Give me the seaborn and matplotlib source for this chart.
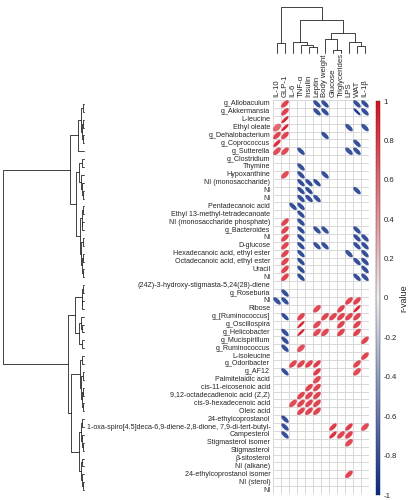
import numpy as np
import matplotlib
matplotlib.use("Agg")
import matplotlib.pyplot as plt
import seaborn as sns
from matplotlib.colors import LinearSegmentedColormap, ListedColormap, Normalize
from matplotlib.cm import ScalarMappable
from matplotlib.patches import Ellipse

sns.set_style("white")
plt.rcParams["font.family"] = ["Liberation Sans", "DejaVu Sans"]

# ---------------------------------------------------------------
# data
# ---------------------------------------------------------------
clinical = ["IL-10", "GLP-1", "IL-6", "TNF-α", "Insulin", "Leptin",
            "Body weight", "Glucose", "Triglycerides", "LPS", "WAT", "IL-1β"]

features = [
    "g_Allobaculum", "g_Akkermansia", "L-leucine", "Ethyl oleate",
    "g_Dehalobacterium", "g_Coprococcus", "g_Sutterella", "g_Clostridium",
    "Thymine", "Hypoxanthine", "NI (monosaccharide)", "NI", "NI",
    "Pentadecanoic acid", "Ethyl 13-methyl-tetradecanoate",
    "NI (monosaccharide phosphate)", "g_Bacteroides", "NI", "D-glucose",
    "Hexadecanoic acid, ethyl ester", "Octadecanoic acid, ethyl ester",
    "Uracil", "NI", "(24Z)-3-hydroxy-stigmasta-5,24(28)-diene",
    "g_Roseburia", "NI", "Ribose", "g_[Ruminococcus]", "g_Oscillospira",
    "g_Helicobacter", "g_Mucispirillum", "g_Ruminococcus", "L-isoleucine",
    "g_Odoribacter", "g_AF12", "Palmitelaidic acid", "cis-11-eicosenoic acid",
    "9,12-octadecadienoic acid (Z,Z)", "cis-9-hexadecenoic acid", "Oleic acid",
    "24-ethylcoprostanol",
    "1-oxa-spiro[4.5]deca-6,9-diene-2,8-dione, 7,9-di-tert-butyl-",
    "Campesterol", "Stigmasterol isomer", "Stigmasterol", "β-sitosterol",
    "NI (alkane)", "24-ethylcoprostanol isomer", "NI (sterol)", "NI",
]

# significant r-values per clinical marker (0 = not shown), one per feature row
il10 = [0, 0, 0, .6, .75, .85, .72, 0, 0, 0,
        0, 0, 0, 0, 0, 0, 0, 0, 0, 0,
        0, 0, 0, 0, 0, -.78, 0, 0, 0, 0,
        0, 0, 0, 0, 0, 0, 0, 0, 0, 0,
        0, 0, 0, 0, 0, 0, 0, 0, 0, 0]
glp1 = [.75, .75, .9, .9, .75, 0, .72, 0, 0, .72,
        0, 0, 0, 0, 0, .75, .75, .75, .75, .75,
        .75, .75, .75, 0, -.8, -.8, 0, -.82, 0, -.8,
        -.8, -.8, 0, 0, -.82, 0, 0, 0, 0, 0,
        -.8, -.8, -.8, 0, 0, 0, 0, 0, 0, 0]
il6 = [0, 0, 0, 0, 0, 0, 0, 0, 0, 0,
       0, 0, 0, -.8, 0, 0, 0, 0, 0, 0,
       0, 0, 0, 0, 0, 0, 0, 0, 0, 0,
       0, 0, 0, .75, 0, 0, 0, 0, .72, 0,
       0, 0, 0, 0, 0, 0, 0, 0, 0, 0]
tnfa = [0, 0, 0, 0, 0, 0, -.8, 0, -.8, -.8,
        -.82, -.82, -.8, -.8, -.82, -.8, -.82, -.82, -.82, -.82,
        -.82, -.82, -.82, 0, 0, 0, 0, .75, .92, .92,
        0, .7, 0, .75, 0, 0, 0, .75, .75, .75,
        0, 0, 0, 0, 0, 0, 0, 0, 0, 0]
insulin = [0, 0, 0, 0, 0, 0, 0, 0, 0, 0,
           -.82, -.82, -.8, 0, 0, 0, 0, 0, 0, 0,
           0, 0, 0, 0, 0, 0, 0, 0, 0, 0,
           0, 0, 0, .75, 0, 0, .75, .75, .75, .75,
           0, 0, 0, 0, 0, 0, 0, 0, 0, 0]
leptin = [-.8, -.8, 0, 0, 0, 0, 0, 0, 0, 0,
          -.82, 0, -.8, 0, 0, 0, -.8, 0, -.8, 0,
          0, 0, 0, 0, 0, 0, .72, 0, .72, .72,
          0, 0, 0, .8, .78, .72, .75, .75, .75, .75,
          0, 0, 0, 0, 0, 0, 0, 0, 0, 0]
body_weight = [-.8, -.8, 0, 0, -.8, 0, 0, 0, 0, -.8,
               0, 0, 0, 0, 0, 0, -.8, 0, -.8, 0,
               0, 0, 0, 0, 0, 0, 0, .75, 0, .72,
               0, 0, 0, 0, 0, 0, 0, 0, 0, 0,
               0, 0, 0, 0, 0, 0, 0, 0, 0, 0]
glucose = [0, 0, 0, 0, 0, 0, 0, 0, 0, 0,
           0, 0, 0, 0, 0, 0, 0, 0, 0, 0,
           0, 0, 0, 0, 0, 0, 0, .75, 0, 0,
           0, 0, 0, 0, 0, 0, 0, 0, 0, 0,
           0, .8, .85, 0, 0, 0, 0, 0, 0, 0]
triglycerides = [0, 0, 0, 0, 0, 0, 0, 0, 0, 0,
                 0, 0, 0, 0, 0, 0, 0, 0, 0, 0,
                 0, 0, 0, 0, 0, 0, .75, .75, .75, .75,
                 0, 0, 0, 0, 0, 0, 0, 0, 0, 0,
                 0, 0, .75, 0, 0, 0, 0, 0, 0, 0]
lps = [0, 0, 0, -.78, 0, 0, -.78, 0, 0, 0,
       0, 0, 0, 0, 0, 0, 0, 0, 0, -.78,
       0, 0, 0, 0, 0, .75, 0, .75, 0, 0,
       0, 0, 0, 0, 0, 0, 0, 0, 0, 0,
       0, .8, .75, .72, 0, 0, 0, .75, 0, 0]
wat = [-.8, -.92, 0, 0, 0, -.8, -.8, 0, 0, 0,
       0, -.8, 0, 0, 0, 0, -.8, -.8, -.8, 0,
       -.8, 0, -.8, 0, 0, .75, .9, .75, .75, .75,
       0, 0, 0, .75, .72, 0, 0, 0, 0, 0,
       0, 0, 0, 0, 0, 0, 0, 0, 0, 0]
il1b = [-.8, -.8, 0, -.78, 0, 0, 0, 0, 0, 0,
        0, 0, 0, 0, 0, 0, 0, -.8, -.8, -.8,
        -.8, -.8, -.8, 0, 0, 0, 0, 0, 0, 0,
        .75, 0, .75, 0, 0, 0, 0, 0, 0, 0,
        0, .72, 0, 0, 0, 0, 0, 0, 0, 0]

# cluster trees: (merge height, left, right), leaves are indices
col_tree = (140, (30, 0, 1),
            (100, (35, 2, (25, 3, (17, 4, 5))),
             (60, (42, 6, (10, 7, 8)), (35, 9, (22, 10, 11)))))

tree_a = (14,
          (6, (2.5, (1.2, 0, 1), (2, (1, 2, 3), (1, 4, 5))), 6),
          (7.5,
           (5, (1.5, 7, 8), (3, 9, (2, 10, (1, 11, 12)))),
           (4, (2, (1, 13, 14), (1.5, 15, 16)),
            (2.5, (1, 17, 18), (1.8, (0.8, 19, 20), (1, 21, 22))))))
tree_b = (16,
          (9, (2, (1.2, 23, 24), (1.5, 25, 26)),
           (5, (2.5, 27, (1.5, 28, 29)), (1.5, 30, 31))),
          (13,
           (3.5, (1.5, 32, 33),
            (2.5, (1, 34, 35), (1.8, (0.8, 36, 37), (1, 38, 39)))),
           (5, (3, (1.5, 40, 41), (2, 42, (1, 43, 44))),
            (3, (1.5, 45, 46), (2, 47, (1, 48, 49))))))
row_tree = (80, tree_a, tree_b)

columns = [il10, glp1, il6, tnfa, insulin, leptin, body_weight,
           glucose, triglycerides, lps, wat, il1b]
r_values = np.array(columns).T

cmap = LinearSegmentedColormap.from_list(
    "rvalue", ["#06288b", "#eeeeee", "#e6091a"])
norm = Normalize(-1, 1)


def draw_tree(ax, node, horizontal):
    """Draw a dendrogram node, return (position, height)."""
    if isinstance(node, int):
        return node + 0.5, 0
    h, left, right = node
    pl, hl = draw_tree(ax, left, horizontal)
    pr, hr = draw_tree(ax, right, horizontal)
    a = [hl, h, h, hr]
    b = [pl, pl, pr, pr]
    if horizontal:
        ax.plot(a, b, color="#222222", lw=0.6, clip_on=False)
    else:
        ax.plot(b, a, color="#222222", lw=0.6, clip_on=False)
    return (pl + pr) / 2, h


fig = plt.figure(figsize=(4.11, 5.00), dpi=100)

# ---------------------------------------------------------------
# ellipse grid
# ---------------------------------------------------------------
ax = fig.add_axes([273 / 411, 1 - 494 / 500, 96 / 411, 394 / 500])
sns.heatmap(
    np.zeros(r_values.shape),
    cmap=ListedColormap(["white"]),
    linewidths=0.5,
    linecolor="#d9d9d9",
    cbar=False,
    xticklabels=clinical,
    yticklabels=features,
    ax=ax
)

size = 1.22
for i in range(r_values.shape[0]):
    for j in range(r_values.shape[1]):
        r = r_values[i, j]
        if r == 0:
            continue
        minor = size * 0.95 * np.sqrt(1 - abs(r))
        ax.add_patch(Ellipse(
            (j + 0.5, i + 0.5), size, minor,
            angle=-45 if r > 0 else 45,
            facecolor=cmap(norm(r)), edgecolor="none"
        ))

ax.xaxis.tick_top()
ax.tick_params(length=0, pad=2)
plt.setp(ax.get_xticklabels(), rotation=90, fontsize=5.6, ha="center", va="bottom")
plt.setp(ax.get_yticklabels(), rotation=0, fontsize=5.1)
ax.set_xlabel("")
ax.set_ylabel("")

# ---------------------------------------------------------------
# dendrograms
# ---------------------------------------------------------------
ax_top = fig.add_axes([273 / 411, 1 - 53 / 500, 96 / 411, 46 / 500])
draw_tree(ax_top, col_tree, horizontal=False)
ax_top.set_xlim(0, len(clinical))
ax_top.set_ylim(0, 140)
ax_top.axis("off")

ax_left = fig.add_axes([3 / 411, 1 - 494 / 500, 81 / 411, 394 / 500])
draw_tree(ax_left, row_tree, horizontal=True)
ax_left.set_xlim(80, 0)
ax_left.set_ylim(len(features), 0)
ax_left.axis("off")

# ---------------------------------------------------------------
# colour bar
# ---------------------------------------------------------------
cax = fig.add_axes([376 / 411, 1 - 495 / 500, 3.5 / 411, 394 / 500])
ticks = np.round(np.arange(-1, 1.01, 0.2), 1)
cb = fig.colorbar(ScalarMappable(norm=norm, cmap=cmap), cax=cax, ticks=ticks)
cb.ax.set_yticklabels(["%g" % t if t != 0 else "0" for t in ticks])
cb.ax.tick_params(length=0, labelsize=5.6, pad=3)
cb.outline.set_linewidth(0.3)
cb.set_label("r-value", fontsize=6.5, labelpad=2)

fig.savefig("out.png", dpi=100)
